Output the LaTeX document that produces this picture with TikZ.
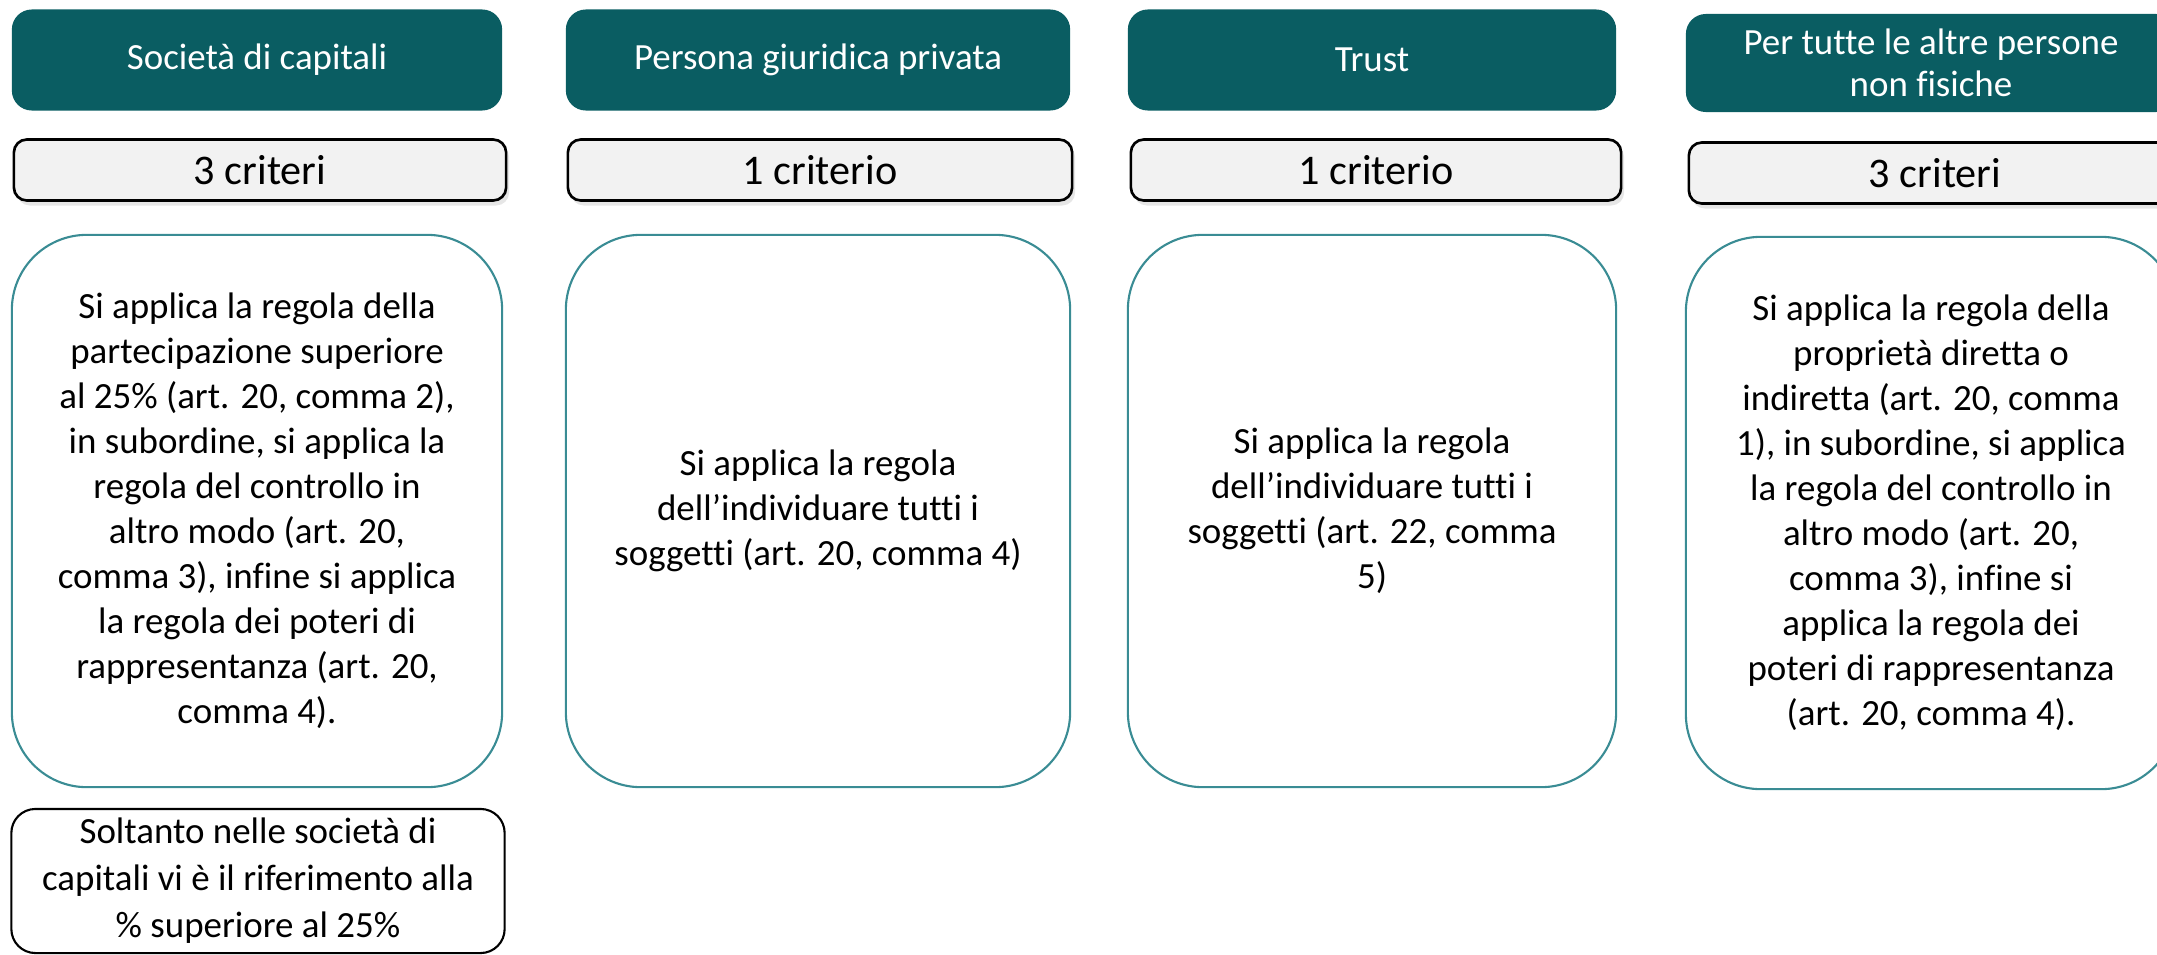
\documentclass[tikz,border=0pt]{standalone}
\usepackage{fontspec}
\setmainfont{Carlito}[Ligatures=NoCommon]
\usetikzlibrary{shadows}
\definecolor{tealhead}{RGB}{10,93,98}
\definecolor{tealline}{RGB}{58,140,148}
\definecolor{critfill}{RGB}{242,242,242}

\begin{document}
\begin{tikzpicture}[x=0.01cm, y=-0.01cm,
    headbox/.style={fill=tealhead, text=white, rounded corners=0.2cm, minimum width=4.9cm, minimum height=1.01cm, inner sep=0pt, align=center, font=\fontsize{10.5}{12.1}\selectfont},
    critbox/.style={draw=black, line width=0.75pt, fill=critfill, rounded corners=0.13cm, minimum width=4.92cm, minimum height=0.61cm, inner sep=0pt, font=\fontsize{12}{14}\selectfont, drop shadow={opacity=0.2, shadow xshift=0.03cm, shadow yshift=-0.05cm}},
    rulebox/.style={draw=tealline, line width=0.6pt, rounded corners=0.75cm, minimum width=4.9cm, minimum height=5.52cm, inner sep=0pt, align=center, font=\fontsize{10.5}{12.8}\selectfont},
    notebox/.style={draw=black, line width=0.6pt, rounded corners=0.24cm, minimum width=4.93cm, minimum height=1.44cm, inner sep=0pt, align=center, font=\fontsize{10.5}{13.4}\selectfont}]
    \useasboundingbox (0,0) rectangle (2157,954);
    \clip (0,0) rectangle (2157,954);
    % headers
    \node[headbox] (societa) at (257,60) {Società di capitali};
    \node[headbox, minimum width=5.04cm] (persona) at (818,60) {Persona giuridica privata};
    \node[headbox, minimum width=4.88cm] (trust) at (1372,60) {Trust};
    \node[headbox, minimum height=0.98cm] (altre) at (1931,63) {Per tutte le altre persone\\non fisiche};
    % numero di criteri
    \node[critbox] (crit1) at (260,170) {3 criteri};
    \node[critbox, minimum width=5.04cm] (crit2) at (820,170) {1 criterio};
    \node[critbox, minimum width=4.9cm] (crit3) at (1376,170) {1 criterio};
    \node[critbox] (crit4) at (1935,173) {3 criteri};
    % regole
    \node[rulebox] (regola1) at (257,511) {Si applica la regola della\\partecipazione superiore\\al 25\% (art. 20, comma 2),\\in subordine, si applica la\\regola del controllo in\\altro modo (art. 20,\\comma 3), infine si applica\\la regola dei poteri di\\rappresentanza (art. 20,\\comma 4).};
    \node[rulebox, minimum width=5.04cm] (regola2) at (818,511) {Si applica la regola\\dell’individuare tutti i\\soggetti (art. 20, comma 4)};
    \node[rulebox, minimum width=4.88cm] (regola3) at (1372,511) {Si applica la regola\\dell’individuare tutti i\\soggetti (art. 22, comma\\5)};
    \node[rulebox] (regola4) at (1931,513) {Si applica la regola della\\proprietà diretta o\\indiretta (art. 20, comma\\1), in subordine, si applica\\la regola del controllo in\\altro modo (art. 20,\\comma 3), infine si\\applica la regola dei\\poteri di rappresentanza\\(art. 20, comma 4).};
    % nota
    \node[notebox] (nota) at (258,881) {Soltanto nelle società di\\capitali vi è il riferimento alla\\\% superiore al 25\%};
\end{tikzpicture}
\end{document}
